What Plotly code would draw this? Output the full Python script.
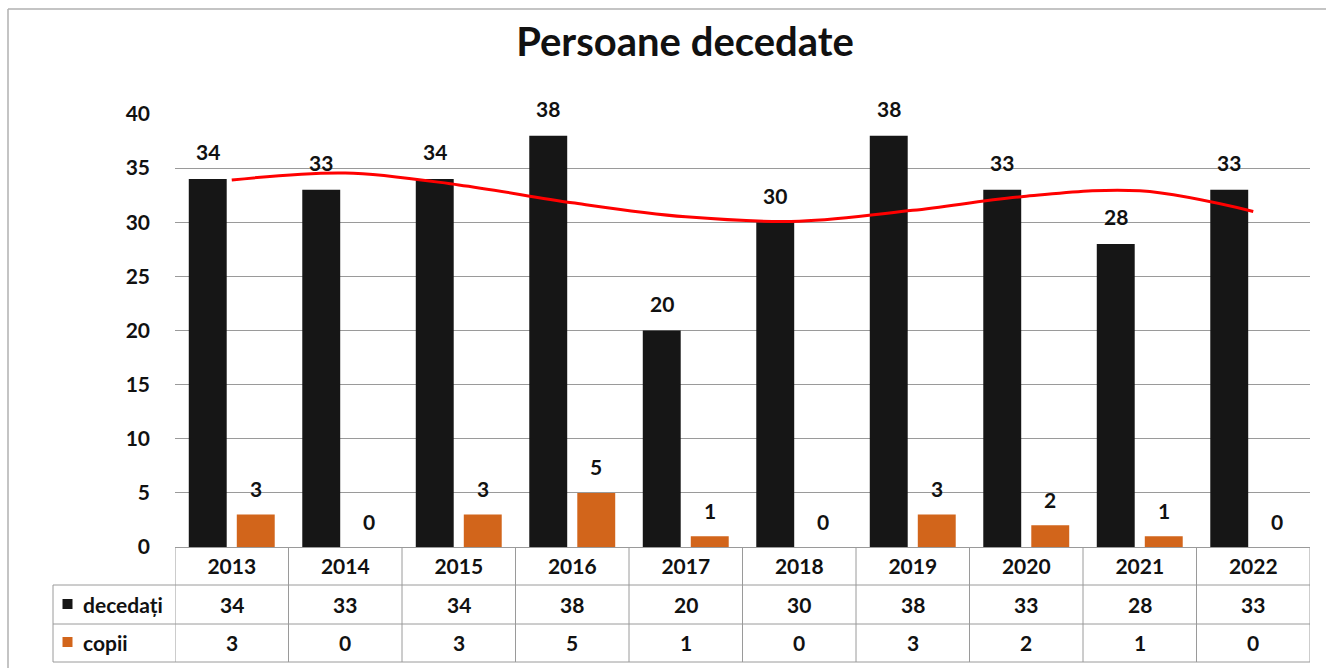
import plotly.graph_objects as go

years = ["2013", "2014", "2015", "2016", "2017", "2018", "2019", "2020", "2021", "2022"]
decedati = [34, 33, 34, 38, 20, 30, 38, 33, 28, 33]
copii = [3, 0, 3, 5, 1, 0, 3, 2, 1, 0]
# trendline values at each category centre
trend = [33.9, 34.55, 33.45, 31.8, 30.5, 30.1, 31.1, 32.4, 32.9, 31.0]

title_text = "Persoane decedate"
series_names = ["decedați", "copii"]

BLACK = "#161616"
ORANGE = "#D2651B"
GRID = "#9a9a9a"
TXT = "#111111"
FONT = "Lato"

W, H = 1326, 668
L, R, T, B = 175, 16, 114, 121
PW, PH = W - L - R, H - T - B


def px(x):
    return (x - L) / PW


def py(y):
    return (H - B - y) / PH


fig = go.Figure()
fig.add_bar(x=years, y=decedati, name=series_names[0], marker=dict(color=BLACK, line=dict(width=0)))
fig.add_bar(x=years, y=copii, name=series_names[1], marker=dict(color=ORANGE, line=dict(width=0)))
fig.add_scatter(x=years, y=trend, mode="lines", line=dict(color="#FF0000", width=3, shape="spline", smoothing=1.0),
                hoverinfo="skip")

ann = []
lab_font = dict(family=FONT, size=21, color=TXT, weight="bold")
for i in range(len(years)):
    ann.append(dict(x=i, y=decedati[i], xref="x", yref="y", text=str(decedati[i]), showarrow=False,
                    xanchor="center", yanchor="middle", xshift=-24, yshift=27, font=lab_font))
    ann.append(dict(x=i, y=copii[i], xref="x", yref="y", text=str(copii[i]), showarrow=False,
                    xanchor="center", yanchor="middle", xshift=24, yshift=26, font=lab_font))
    # table rows
    ann.append(dict(x=i, y=py(604), xref="x", yref="paper", text=str(decedati[i]), showarrow=False,
                    xanchor="center", yanchor="middle", font=lab_font))
    ann.append(dict(x=i, y=py(642), xref="x", yref="paper", text=str(copii[i]), showarrow=False,
                    xanchor="center", yanchor="middle", font=lab_font))

ann.append(dict(x=px(81), y=py(604), xref="paper", yref="paper", text=series_names[0], showarrow=False,
                xanchor="left", yanchor="middle", font=lab_font))
ann.append(dict(x=px(81), y=py(642), xref="paper", yref="paper", text=series_names[1], showarrow=False,
                xanchor="left", yanchor="middle", font=lab_font))

shapes = []
line = dict(color=GRID, width=1)
# outer frame
shapes.append(dict(type="line", xref="paper", yref="paper", x0=px(8), x1=px(8), y0=py(9), y1=py(668),
                   line=dict(color="#b0b0b0", width=1.5)))
shapes.append(dict(type="line", xref="paper", yref="paper", x0=px(8), x1=px(1326), y0=py(9), y1=py(9),
                   line=dict(color="#b0b0b0", width=1.5)))
# table horizontal lines
for yy in (585, 624, 662):
    shapes.append(dict(type="line", xref="paper", yref="paper", x0=px(53), x1=1, y0=py(yy), y1=py(yy), line=line))
# vertical lines
shapes.append(dict(type="line", xref="paper", yref="paper", x0=px(53), x1=px(53), y0=py(585), y1=py(662), line=line))
for k in range(len(years) + 1):
    shapes.append(dict(type="line", xref="x", yref="paper", x0=k - 0.5, x1=k - 0.5, y0=0, y1=py(662), line=line))
# legend keys
shapes.append(dict(type="rect", xref="paper", yref="paper", x0=px(62.5), x1=px(72.5), y0=py(599), y1=py(609),
                   fillcolor=BLACK, line=dict(width=0)))
shapes.append(dict(type="rect", xref="paper", yref="paper", x0=px(62.5), x1=px(72.5), y0=py(637), y1=py(647),
                   fillcolor=ORANGE, line=dict(width=0)))

fig.update_layout(
    width=W, height=H,
    margin=dict(l=L, r=R, t=T, b=B, pad=0),
    paper_bgcolor="white", plot_bgcolor="white",
    barmode="group", bargap=0.154, bargroupgap=0.21,
    showlegend=False,
    title=dict(text=title_text, xref="container", x=685 / W, xanchor="center", y=1 - 42 / H, yanchor="middle",
               font=dict(family=FONT, size=40, color=TXT, weight="bold")),
    font=dict(family=FONT, color=TXT),
    annotations=ann,
    shapes=shapes,
)
fig.update_xaxes(type="category", range=[-0.5, len(years) - 0.5], showgrid=False, showline=True, linecolor=GRID,
                 linewidth=1, ticks="", tickfont=dict(family=FONT, size=21, color=TXT, weight="bold"),
                 ticklabelstandoff=1)
fig.update_yaxes(range=[0, 40], dtick=5, showgrid=True, gridcolor=GRID, gridwidth=1, zeroline=False,
                 showline=False, ticks="", tickfont=dict(family=FONT, size=21, color=TXT, weight="bold"),
                 ticklabelstandoff=24)

fig.write_html("out.html", config={"displayModeBar": False},
               post_script="document.body.style.margin='0';document.body.style.overflow='hidden';")
